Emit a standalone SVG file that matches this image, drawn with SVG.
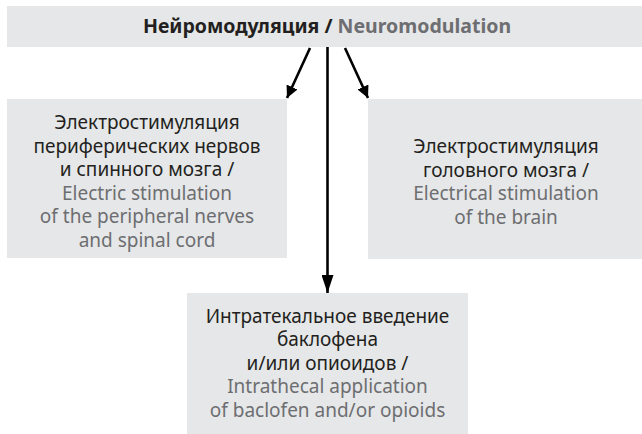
<svg xmlns="http://www.w3.org/2000/svg" width="642" height="434" viewBox="0 0 642 434">
<style>
.box{fill:#e6e7e8}
.t{font-family:"Noto Sans","Open Sans",sans-serif;font-size:19px;text-anchor:middle;fill:#231f20}
.g{fill:#6d6e71}
.title{font-weight:bold;font-size:19.5px}
.c{stroke:#000;stroke-width:2.6;fill:none}
</style>
<defs>
<marker id="ah" markerWidth="12" markerHeight="18" viewBox="0 0 12 18" refX="12" refY="9" orient="auto" markerUnits="userSpaceOnUse">
<path d="M0,3 L12,9 L0,15 Z" fill="#000"/>
</marker>
<marker id="ahv" markerWidth="18" markerHeight="12" viewBox="0 0 18 12" refX="18" refY="6" orient="auto" markerUnits="userSpaceOnUse">
<path d="M0,0 L18,6 L0,12 Z" fill="#000"/>
</marker>
</defs>
<g id="top">
<rect class="box" x="7" y="6" width="635" height="41"/>
<text class="t title" x="327" y="33">Нейромодуляция / <tspan class="g">Neuromodulation</tspan></text>
</g>
<g id="left">
<rect class="box" x="7" y="99" width="280" height="159"/>
<text class="t" x="147" y="129">Электростимуляция</text>
<text class="t" x="147" y="152.5">периферических нервов</text>
<text class="t" x="147" y="176">и спинного мозга /</text>
<text class="t g" x="147" y="199.5">Electric stimulation</text>
<text class="t g" x="147" y="223">of the peripheral nerves</text>
<text class="t g" x="147" y="246.5">and spinal cord</text>
</g>
<g id="right">
<rect class="box" x="368" y="99" width="274" height="160"/>
<text class="t" x="506" y="153">Электростимуляция</text>
<text class="t" x="506" y="176.5">головного мозга /</text>
<text class="t g" x="506" y="200">Electrical stimulation</text>
<text class="t g" x="506" y="223.5">of the brain</text>
</g>
<g id="bottom">
<rect class="box" x="187" y="293" width="281" height="141"/>
<text class="t" x="327.5" y="322.5">Интратекальное введение</text>
<text class="t" x="327.5" y="346">баклофена</text>
<text class="t" x="327.5" y="369.5">и/или опиоидов /</text>
<text class="t g" x="327.5" y="393">Intrathecal application</text>
<text class="t g" x="327.5" y="416.5">of baclofen and/or opioids</text>
</g>
<g id="connectors">
<line class="c" x1="310" y1="48" x2="287" y2="98" marker-end="url(#ah)"/>
<line class="c" x1="345" y1="48" x2="368" y2="98" marker-end="url(#ah)"/>
<line class="c" x1="327.5" y1="47" x2="327.5" y2="293" marker-end="url(#ahv)"/>
</g>
</svg>
